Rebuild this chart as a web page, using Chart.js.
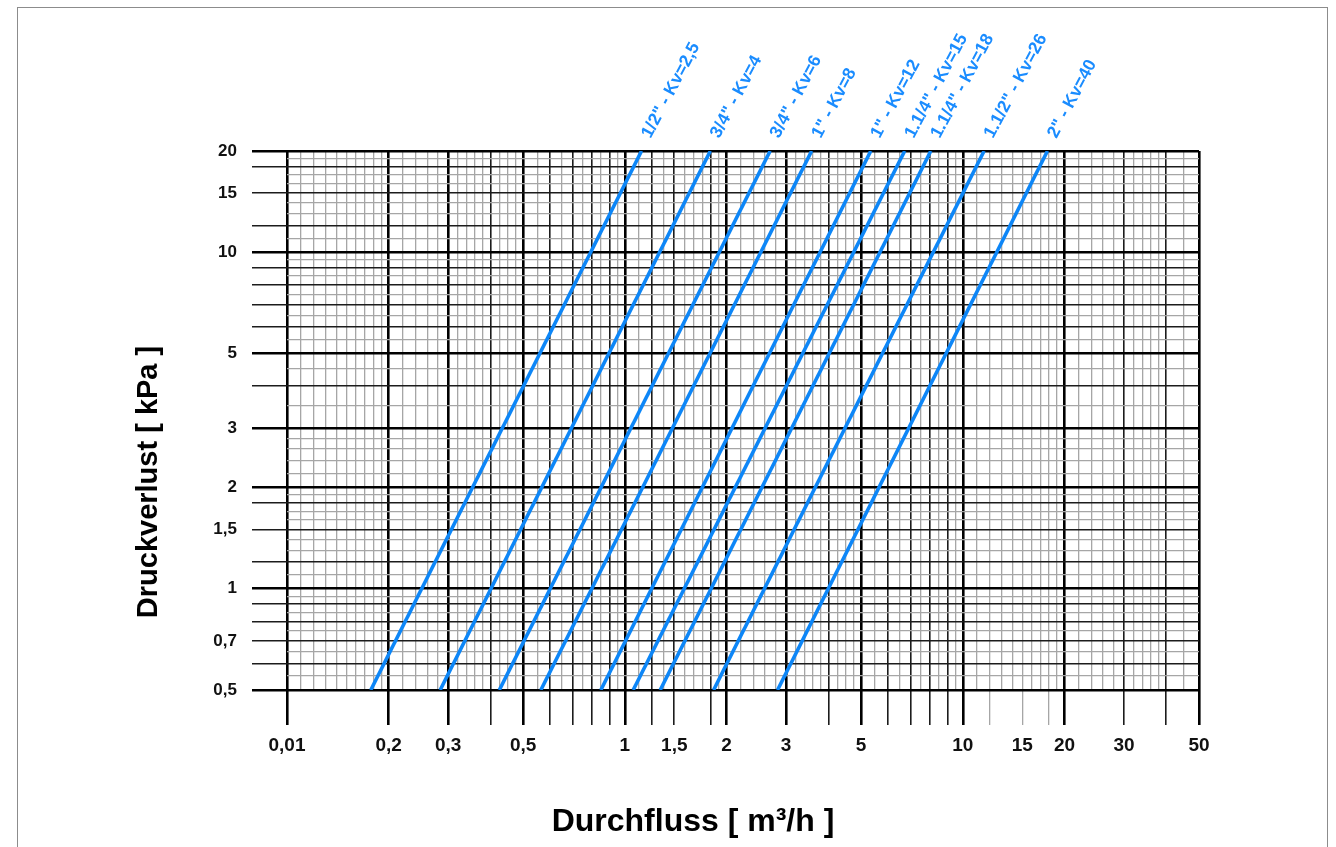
<!DOCTYPE html>
<html>
<head>
<meta charset="utf-8">
<script src="https://cdn.jsdelivr.net/npm/chart.js@4/dist/chart.umd.min.js"></script>
<style>
  html, body { margin: 0; padding: 0; background: #fff; }
  canvas { display: block; }
</style>
</head>
<body>
<canvas id="myChart" width="1336" height="847"></canvas>
<script>
// valve curves: flow read at 0,5 kPa and at 20 kPa
const kvLabels = ['1/2" - Kv=2,5', '3/4" - Kv=4', '3/4" - Kv=6', '1" - Kv=8', '1" - Kv=12',
                  '1.1/4" - Kv=15', '1.1/4" - Kv=18', '1.1/2" - Kv=26', '2" - Kv=40'];
const flowAtMinLoss = [0.177, 0.284, 0.425, 0.564, 0.849, 1.058, 1.272, 1.83, 2.83];
const flowAtMaxLoss = [1.12, 1.79, 2.69, 3.57, 5.34, 6.73, 8.04, 11.56, 17.8];
const lossRange = [0.5, 20];

// x grid (Durchfluss)
const xThick = [0.1, 0.2, 0.3, 0.5, 1, 2, 3, 5, 10, 20, 50];
const xMedium = [0.4, 0.6, 0.7, 0.8, 0.9, 1.2, 1.4, 1.8, 4, 6, 7, 8, 9, 30, 40];
const xLightTicked = [12, 15, 18];
const xLight = [0.11, 0.12, 0.13, 0.14, 0.15, 0.16, 0.17, 0.18, 0.19,
                0.22, 0.24, 0.26, 0.28, 0.32, 0.34, 0.36, 0.38, 0.425, 0.45, 0.475,
                0.55, 0.65, 0.75, 0.85, 0.95,
                1.1, 1.3, 1.5, 1.6, 1.7, 1.9, 2.2, 2.4, 2.6, 2.8, 3.2, 3.4, 3.6, 3.8,
                4.25, 4.5, 4.75, 5.5, 6.5, 7.5, 8.5, 9.5,
                11, 13, 14, 16, 17, 19, 22, 24, 26, 28, 32, 34, 36, 38, 45];
const xLabelValues = [0.1, 0.2, 0.3, 0.5, 1, 1.4, 2, 3, 5, 10, 15, 20, 30, 50];
const xLabelTexts = ['0,01', '0,2', '0,3', '0,5', '1', '1,5', '2', '3', '5', '10', '15', '20', '30', '50'];

// y grid (Druckverlust)
const yThick = [0.5, 1, 2, 3, 5, 10, 20];
const yMedium = [0.6, 0.7, 0.8, 0.9, 1.2, 1.5, 1.8, 4, 6, 7, 8, 9, 12, 15, 18];
const yLight = [0.55, 0.65, 0.75, 0.85, 0.95, 1.1, 1.3, 1.4, 1.6, 1.7, 1.9,
                2.2, 2.4, 2.6, 2.8, 3.5, 4.5, 5.5, 6.5, 7.5, 8.5, 9.5,
                11, 13, 14, 16, 17, 19];
const yLabelValues = [0.5, 0.7, 1, 1.5, 2, 3, 5, 10, 15, 20];
const yLabelTexts = ['0,5', '0,7', '1', '1,5', '2', '3', '5', '10', '15', '20'];

const FONT = '"Liberation Sans", Arial, sans-serif';
const LINE_BLUE = '#0d86f7';

const same = (a, b) => Math.abs(a - b) < 1e-6 * b;
const has = (list, v) => list.some(t => same(t, v));
const sorted = (...lists) => [].concat(...lists).sort((a, b) => a - b);

function lineColor(v, thick, medium) {
  if (has(thick, v)) return '#000';
  if (has(medium, v)) return '#1c1c1c';
  return '#a6a6a6';
}
function lineWidth(v, thick, medium) {
  if (has(thick, v)) return 2.6;
  if (has(medium, v)) return 1.6;
  return 1.3;
}
function labelFor(v, values, texts) {
  const i = values.findIndex(t => same(t, v));
  return i < 0 ? '' : texts[i];
}

const xAll = sorted(xThick, xMedium, xLightTicked, xLight);
const yAll = sorted(yThick, yMedium, yLight);

const datasets = kvLabels.map((label, i) => ({
  label: label,
  data: [{ x: flowAtMinLoss[i], y: lossRange[0] }, { x: flowAtMaxLoss[i], y: lossRange[1] }],
  borderColor: LINE_BLUE,
  borderWidth: 3.6,
  pointRadius: 0,
  tension: 0,
  fill: false
}));

const frameAndTitles = {
  id: 'frameAndTitles',
  beforeDraw(chart) {
    const ctx = chart.ctx;
    ctx.save();
    ctx.fillStyle = '#fff';
    ctx.fillRect(0, 0, chart.width, chart.height);
    ctx.strokeStyle = '#8c8c8c';
    ctx.lineWidth = 1;
    ctx.strokeRect(17.5, 7.5, 1310, 860);
    ctx.restore();
  },
  afterDraw(chart) {
    const ctx = chart.ctx;
    ctx.save();
    ctx.fillStyle = '#000';
    ctx.textAlign = 'center';
    ctx.textBaseline = 'middle';
    ctx.font = 'bold 32px ' + FONT;
    ctx.fillText('Durchfluss [ m³/h ]', 693, 822);
    ctx.translate(149, 482);
    ctx.rotate(-Math.PI / 2);
    ctx.font = 'bold 29px ' + FONT;
    ctx.fillText('Druckverlust [ kPa ]', 0, 0);
    ctx.restore();
  },
  afterDatasetsDraw(chart) {
    const ctx = chart.ctx;
    ctx.save();
    ctx.fillStyle = '#1a8cff';
    ctx.font = 'bold 17.5px ' + FONT;
    ctx.textAlign = 'left';
    ctx.textBaseline = 'alphabetic';
    chart.data.datasets.forEach((ds, i) => {
      const pt = chart.getDatasetMeta(i).data[1];
      ctx.save();
      ctx.translate(pt.x + 9, pt.y - 12);
      ctx.rotate(-62 * Math.PI / 180);
      ctx.fillText(ds.label, 0, 0);
      ctx.restore();
    });
    ctx.restore();
  }
};

new Chart(document.getElementById('myChart').getContext('2d'), {
  type: 'line',
  data: { datasets: datasets },
  options: {
    responsive: false,
    animation: false,
    layout: { padding: { top: 151, right: 137, bottom: 0, left: 0 } },
    plugins: { legend: { display: false }, tooltip: { enabled: false } },
    scales: {
      x: {
        type: 'logarithmic',
        min: 0.1,
        max: 50,
        afterBuildTicks: s => { s.ticks = xAll.map(v => ({ value: v })); },
        afterFit: s => { s.height = 157; },
        border: { display: false },
        grid: {
          color: c => lineColor(c.tick.value, xThick, xMedium),
          lineWidth: c => lineWidth(c.tick.value, xThick, xMedium),
          drawTicks: true,
          tickLength: 35,
          tickColor: c => (has(xLight, c.tick.value) ? 'rgba(0,0,0,0)' : lineColor(c.tick.value, xThick, xMedium)),
          tickWidth: c => lineWidth(c.tick.value, xThick, xMedium)
        },
        ticks: {
          autoSkip: false,
          maxRotation: 0,
          minRotation: 0,
          padding: 9,
          color: '#111',
          font: { family: FONT, size: 19, weight: 'bold' },
          callback: (val, i, ticks) => labelFor(ticks[i].value, xLabelValues, xLabelTexts)
        }
      },
      y: {
        type: 'logarithmic',
        min: 0.5,
        max: 20,
        afterBuildTicks: s => { s.ticks = yAll.map(v => ({ value: v })); },
        afterFit: s => { s.width = 287; },
        border: { display: false },
        grid: {
          color: c => lineColor(c.tick.value, yThick, yMedium),
          lineWidth: c => lineWidth(c.tick.value, yThick, yMedium),
          drawTicks: true,
          tickLength: 35,
          tickColor: c => (has(yLight, c.tick.value) ? 'rgba(0,0,0,0)' : lineColor(c.tick.value, yThick, yMedium)),
          tickWidth: c => lineWidth(c.tick.value, yThick, yMedium)
        },
        ticks: {
          autoSkip: false,
          padding: 15,
          color: '#111',
          font: { family: FONT, size: 17, weight: 'bold' },
          callback: (val, i, ticks) => labelFor(ticks[i].value, yLabelValues, yLabelTexts)
        }
      }
    }
  },
  plugins: [frameAndTitles]
});
</script>
</body>
</html>
